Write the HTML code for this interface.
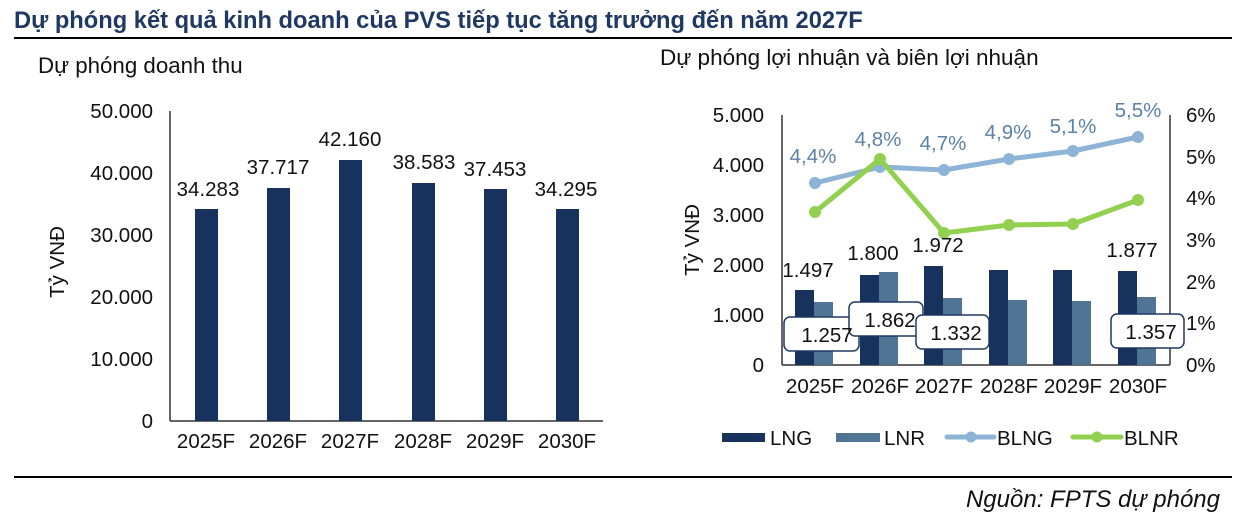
<!DOCTYPE html>
<html><head><meta charset="utf-8"><style>
html,body{margin:0;padding:0;background:#fff;}
svg{display:block;font-family:"Liberation Sans",Arial,sans-serif;}
</style></head><body>
<svg width="1251" height="517" viewBox="0 0 1251 517" xmlns="http://www.w3.org/2000/svg">
<text x="14" y="28" font-size="23.7" font-weight="bold" fill="#1f3864">Dự phóng kết quả kinh doanh của PVS tiếp tục tăng trưởng đến năm 2027F</text>
<line x1="14" y1="38" x2="1232" y2="38" stroke="#000" stroke-width="2"/>
<line x1="14" y1="477" x2="1232" y2="477" stroke="#000" stroke-width="2"/>
<text x="1220" y="507" font-size="24" font-style="italic" text-anchor="end" fill="#111">Nguồn: FPTS dự phóng</text>

<!-- LEFT CHART -->
<text x="38" y="73" font-size="22.3" fill="#111">Dự phóng doanh thu</text>
<g font-size="20.5" fill="#111" text-anchor="end">
<text x="153" y="118">50.000</text>
<text x="153" y="180">40.000</text>
<text x="153" y="242">30.000</text>
<text x="153" y="304">20.000</text>
<text x="153" y="366">10.000</text>
<text x="153" y="428">0</text>
</g>
<text transform="translate(64,262) rotate(-90)" font-size="20.5" text-anchor="middle" fill="#111">Tỷ VNĐ</text>
<line x1="170" y1="111" x2="170" y2="421" stroke="#333" stroke-width="1.5"/>
<line x1="170" y1="421" x2="603" y2="421" stroke="#333" stroke-width="1.5"/>
<g fill="#17325c">
<rect x="195" y="209" width="23" height="212"/>
<rect x="267" y="188" width="23" height="233"/>
<rect x="339" y="160" width="23" height="261"/>
<rect x="412" y="183" width="23" height="238"/>
<rect x="484" y="189" width="23" height="232"/>
<rect x="556" y="209" width="23" height="212"/>
</g>
<g font-size="20.5" fill="#111" text-anchor="middle">
<text x="208" y="196">34.283</text>
<text x="278" y="174">37.717</text>
<text x="350" y="146">42.160</text>
<text x="424" y="169">38.583</text>
<text x="495" y="176">37.453</text>
<text x="566" y="196">34.295</text>
<text x="206" y="448">2025F</text>
<text x="278" y="448">2026F</text>
<text x="350" y="448">2027F</text>
<text x="423" y="448">2028F</text>
<text x="495" y="448">2029F</text>
<text x="567" y="448">2030F</text>
</g>

<!-- RIGHT CHART -->
<text x="660" y="65" font-size="22.5" fill="#111">Dự phóng lợi nhuận và biên lợi nhuận</text>
<g font-size="20.5" fill="#111" text-anchor="end">
<text x="764" y="122">5.000</text>
<text x="764" y="172">4.000</text>
<text x="764" y="222">3.000</text>
<text x="764" y="272">2.000</text>
<text x="764" y="322">1.000</text>
<text x="764" y="372">0</text>
</g>
<g font-size="20.5" fill="#111">
<text x="1186" y="122">6%</text>
<text x="1186" y="164">5%</text>
<text x="1186" y="205">4%</text>
<text x="1186" y="247">3%</text>
<text x="1186" y="289">2%</text>
<text x="1186" y="330">1%</text>
<text x="1186" y="372">0%</text>
</g>
<text transform="translate(699,240) rotate(-90)" font-size="20.5" text-anchor="middle" fill="#111">Tỷ VNĐ</text>
<line x1="782" y1="115" x2="782" y2="365" stroke="#333" stroke-width="1.5"/>
<line x1="1170" y1="115" x2="1170" y2="365" stroke="#333" stroke-width="1.5"/>
<line x1="782" y1="365" x2="1170" y2="365" stroke="#333" stroke-width="1.5"/>
<g fill="#17325c">
<rect x="795" y="290" width="19" height="75"/>
<rect x="860" y="275" width="19" height="90"/>
<rect x="924" y="266" width="19" height="99"/>
<rect x="989" y="270" width="19" height="95"/>
<rect x="1053" y="270" width="19" height="95"/>
<rect x="1118" y="271" width="19" height="94"/>
</g>
<g fill="#4f7494">
<rect x="814" y="302" width="19" height="63"/>
<rect x="879" y="272" width="19" height="93"/>
<rect x="943" y="298" width="19" height="67"/>
<rect x="1008" y="300" width="19" height="65"/>
<rect x="1072" y="301" width="19" height="64"/>
<rect x="1137" y="297" width="19" height="68"/>
</g>
<polyline points="815,183 880,167 944,170 1009,159 1073,151 1138,137" fill="none" stroke="#8db4d6" stroke-width="5" stroke-linejoin="round"/>
<g fill="#8db4d6">
<circle cx="815" cy="183" r="6"/><circle cx="880" cy="167" r="6"/><circle cx="944" cy="170" r="6"/>
<circle cx="1009" cy="159" r="6"/><circle cx="1073" cy="151" r="6"/><circle cx="1138" cy="137" r="6"/>
</g>
<polyline points="815,212 880,159 944,233 1009,225 1073,224 1138,200" fill="none" stroke="#92d050" stroke-width="5" stroke-linejoin="round"/>
<g fill="#92d050">
<circle cx="815" cy="212" r="6"/><circle cx="880" cy="159" r="6"/><circle cx="944" cy="233" r="6"/>
<circle cx="1009" cy="225" r="6"/><circle cx="1073" cy="224" r="6"/><circle cx="1138" cy="200" r="6"/>
</g>
<g font-size="20.5" fill="#5b82a6" text-anchor="middle">
<text x="813" y="163">4,4%</text>
<text x="878" y="146">4,8%</text>
<text x="943" y="150">4,7%</text>
<text x="1008" y="139">4,9%</text>
<text x="1073" y="133">5,1%</text>
<text x="1138" y="117">5,5%</text>
</g>
<g font-size="20.5" fill="#111" text-anchor="middle">
<text x="808" y="277">1.497</text>
<text x="873" y="260">1.800</text>
<text x="938" y="252">1.972</text>
<text x="1132" y="257">1.877</text>
</g>
<g fill="#fff" stroke="#1f3864" stroke-width="1.5">
<rect x="784" y="317" width="75" height="34" rx="6"/>
<rect x="849" y="302" width="74" height="34" rx="6"/>
<rect x="916" y="315" width="73" height="34" rx="6"/>
<rect x="1111" y="314" width="73" height="34" rx="6"/>
</g>
<g font-size="20.5" fill="#111" text-anchor="middle">
<text x="827" y="342">1.257</text>
<text x="890" y="327">1.862</text>
<text x="956" y="340">1.332</text>
<text x="1151" y="339">1.357</text>
</g>
<g font-size="20.5" fill="#111" text-anchor="middle">
<text x="815" y="393">2025F</text>
<text x="880" y="393">2026F</text>
<text x="944" y="393">2027F</text>
<text x="1009" y="393">2028F</text>
<text x="1073" y="393">2029F</text>
<text x="1138" y="393">2030F</text>
</g>
<!-- legend -->
<rect x="722" y="433" width="43" height="9" fill="#17325c"/>
<text x="770" y="445" font-size="20.5" fill="#111">LNG</text>
<rect x="836" y="433" width="44" height="9" fill="#4f7494"/>
<text x="884" y="445" font-size="20.5" fill="#111">LNR</text>
<line x1="947" y1="437" x2="994" y2="437" stroke="#8db4d6" stroke-width="5" stroke-linecap="round"/>
<circle cx="971" cy="437" r="5.5" fill="#8db4d6"/>
<text x="997" y="445" font-size="20.5" fill="#111">BLNG</text>
<line x1="1073" y1="437" x2="1121" y2="437" stroke="#92d050" stroke-width="5" stroke-linecap="round"/>
<circle cx="1097" cy="437" r="5.5" fill="#92d050"/>
<text x="1124" y="445" font-size="20.5" fill="#111">BLNR</text>
</svg>
</body></html>
